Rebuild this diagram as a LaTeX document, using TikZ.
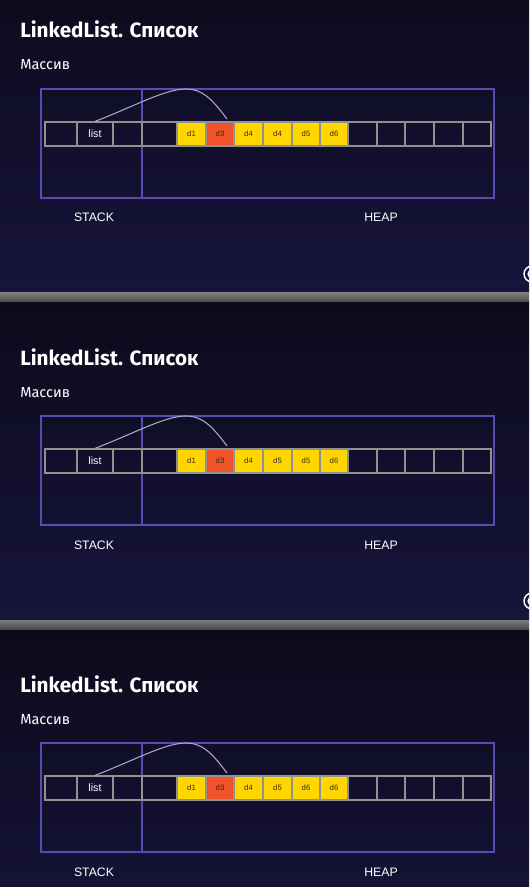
\documentclass[tikz,border=0pt]{standalone}
\usepackage{fontspec}
\setmainfont{Liberation Sans}
\newfontfamily\slidefont{Fira Sans}

\definecolor{slidetop}{HTML}{0C0B1B}
\definecolor{slidebot}{HTML}{17143C}
\definecolor{barhi}{HTML}{7C7C7C}
\definecolor{barlo}{HTML}{4A4A4A}
\definecolor{framecol}{RGB}{88,76,178}
\definecolor{cellline}{RGB}{145,145,145}
\definecolor{cellyel}{HTML}{FFD600}
\definecolor{cellred}{HTML}{F0522A}
\definecolor{linkcol}{RGB}{172,166,200}
\definecolor{inkdark}{RGB}{60,40,10}

\begin{document}
\begin{tikzpicture}[x=0.75pt, y=-0.75pt,
        title/.style={anchor=base west, inner sep=0pt, text=white, font=\slidefont\bfseries\fontsize{15.5}{18}\selectfont},
        sub/.style={anchor=base west, inner sep=0pt, text=white, font=\slidefont\fontsize{10.9}{12}\selectfont},
        frame/.style={draw=framecol, line width=1.1pt},
        cell/.style={draw=cellline, line width=0.9pt, minimum height=18pt, inner sep=0pt, text=inkdark, font=\fontsize{5.8}{6}\selectfont},
        link/.style={draw=linkcol, line width=0.8pt},
        mem/.style={anchor=base, inner sep=0pt, text=white, font=\fontsize{9.2}{11}\selectfont}]
        \useasboundingbox (0,0) rectangle (529,887);
        \clip (0,0) rectangle (529,887);

        % slides and grey bars between them
        \foreach \s in {0,1,2}
            \shade [top color=slidetop, bottom color=slidebot] (0,-25+327*\s) rectangle (529,293+327*\s);
        \foreach \s in {0,1}
            \shade [top color=barhi, bottom color=barlo] (0,293+327*\s) rectangle (529,302+327*\s);

        \foreach \s/\pa/\pb in {0/d4/d5, 1/d5/d5, 2/d5/d6} {
            \begin{scope}[shift={(0,327*\s)}]
                \node [title] (title\s) at (20,38) {LinkedList. Список};
                \node [sub] (sub\s) at (20,70) {Массив};

                \draw [frame] (41,89) rectangle (494,198);
                \draw [frame] (142,89) -- (142,198);

                % empty cells
                \foreach \a/\b [count=\i] in {45/77, 113/142, 142/177, 348/377, 377/405, 405/434, 434/463, 463/491}
                    \node [cell, minimum width={(\b-\a)*0.75pt}] (e\s-\i) at ({(\a+\b)/2},134) {};
                \node [cell, minimum width=27pt, text=white, font=\fontsize{8}{9}\selectfont] (list\s) at (95,134) {list};
                % data cells
                \foreach \a/\b/\lab/\fc [count=\i] in {177/206/d1/cellyel, 206/234/d3/cellred, 234/263/d4/cellyel, 263/292/\pa/cellyel, 292/320/\pb/cellyel, 320/348/d6/cellyel}
                    \node [cell, fill=\fc, minimum width={(\b-\a)*0.75pt}] (d\s-\i) at ({(\a+\b)/2},134) {\lab};

                \coordinate (peak\s) at (186,89);
                \coordinate (end\s) at (227,119);
                \draw [link] (list\s.north) .. controls (135,106) and (165,89) .. (peak\s) .. controls (204,89) and (214,102) .. (end\s);

                \node [mem] (stack\s) at (94,222) {STACK};
                \node [mem] (heap\s) at (381,222) {HEAP};

                % logo, cut by the slide edge
                \draw [white, line width=1.1pt] (532,274) circle (8);
                \draw [white, line width=0.9pt] (532,274) circle (4);
            \end{scope}
        }
    \end{tikzpicture}
\end{document}
